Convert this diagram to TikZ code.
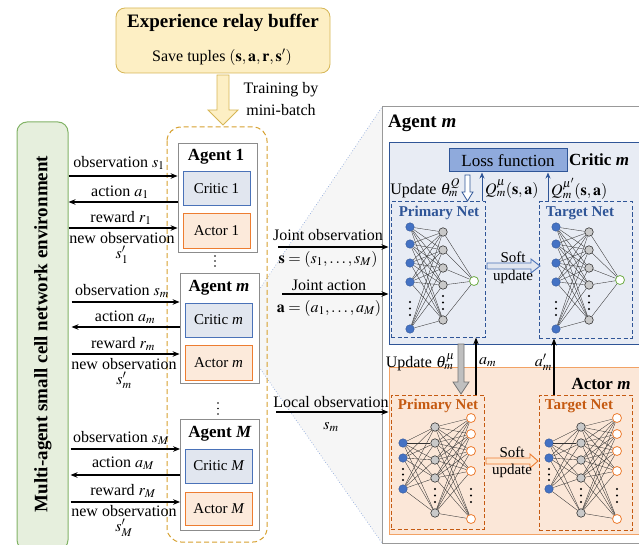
\documentclass[tikz,border=0pt]{standalone}
\usepackage{mathptmx}
\usepackage{fontspec}
\setmainfont{Liberation Serif}
\usetikzlibrary{arrows.meta}
\newcommand{\fs}[1]{\fontsize{#1}{#1}\selectfont}
\definecolor{bufF}{HTML}{FDEFC4}
\definecolor{bufD}{HTML}{D6B656}
\definecolor{envF}{HTML}{E6EFDD}
\definecolor{envD}{HTML}{82B366}
\definecolor{csF}{HTML}{E1E6EF}
\definecolor{csD}{HTML}{4A72B8}
\definecolor{asF}{HTML}{FCEADB}
\definecolor{asD}{HTML}{ED7D31}
\definecolor{goldD}{HTML}{D6A02E}
\definecolor{bcF}{HTML}{E8ECF4}
\definecolor{bcD}{HTML}{2F5597}
\definecolor{lossF}{HTML}{8FAADC}
\definecolor{baF}{HTML}{FBE7D8}
\definecolor{baD}{HTML}{F2A265}
\definecolor{blueT}{HTML}{2F5597}
\definecolor{orT}{HTML}{C55A11}
\definecolor{inF}{HTML}{4472C4}
\definecolor{hidF}{HTML}{C9C9C9}
\definecolor{outG}{HTML}{70AD47}
\definecolor{zoomF}{HTML}{F6F6F6}
\definecolor{zoomL}{HTML}{8FAADC}
\begin{document}
\begin{tikzpicture}[x=1pt,y=-1pt,
  txt/.style={inner sep=0pt, font=\fs{16}},
  two/.style={inner sep=0pt, align=center, font=\fontsize{16}{15.5}\selectfont},
  arr/.style={line width=1.2pt, -{Stealth[length=7pt,width=5.5pt]}},
  agbox/.style={draw=black!45, fill=white, line width=0.8pt, minimum width=79pt, inner sep=0pt},
  csbox/.style={draw=csD, fill=csF, line width=1pt, minimum width=67pt, minimum height=34pt, inner sep=0pt, font=\fs{15}},
  asbox/.style={draw=asD, fill=asF, line width=1pt, minimum width=67pt, minimum height=34pt, inner sep=0pt, font=\fs{15}},
  inn/.style={circle, fill=inF, draw=blueT, line width=0.4pt, minimum size=8.5pt, inner sep=0pt},
  hid/.style={circle, fill=hidF, draw=black!80, line width=0.6pt, minimum size=8.5pt, inner sep=0pt},
  outg/.style={circle, fill=white, draw=outG, line width=0.8pt, minimum size=9pt, inner sep=0pt},
  outo/.style={circle, fill=white, draw=asD, line width=0.8pt, minimum size=9pt, inner sep=0pt},
  nne/.style={line width=0.35pt, black!80},
  dashb/.style={draw=blueT, dashed, dash pattern=on 4pt off 2.5pt, line width=1pt},
  dasho/.style={draw=orT, dashed, dash pattern=on 4pt off 2.5pt, line width=1pt},
  netlab/.style={inner sep=0pt, font=\fs{15}\bfseries},
]
\useasboundingbox (0,0) rectangle (639,545);
\clip (0,0) rectangle (639,545);

% ---------- experience buffer ----------
\node[draw=bufD, fill=bufF, rounded corners=9pt, line width=0.8pt, minimum width=214pt, minimum height=65pt] (buf) at (223,40.5) {};
\node[txt, font=\fs{19}\bfseries] (buft) at (223,23) {Experience relay buffer};
\node[txt] (bufs) at (222,57) {Save tuples $(\mathbf{s},\mathbf{a},\mathbf{r},\mathbf{s}')$};
\draw[draw=bufD, fill=bufF, line width=0.8pt] (217,75) -- (229,75) -- (229,110) -- (238,110) -- (223,125) -- (208,110) -- (217,110) -- cycle;
\node[txt] (trn1) at (281,90) {Training by};
\node[txt] (trn2) at (281,110) {mini-batch};

% ---------- zoom region ----------
\fill[zoomF] (259,290) -- (382,107) -- (382,543) -- (259,367) -- cycle;
\draw[zoomL, dotted, line width=0.7pt] (259,290) -- (382,107);
\draw[zoomL, dotted, line width=0.7pt] (259,367) -- (382,543);

% ---------- environment ----------
\node[draw=envD, fill=envF, rounded corners=10pt, line width=1pt, minimum width=51pt, minimum height=428pt, inner sep=0pt] (env) at (42.5,336) {};
\node[txt, rotate=90, font=\fs{19}\bfseries] (envt) at (43,334) {Multi-agent small cell network environment};

% ---------- agent column ----------
\draw[goldD, dashed, dash pattern=on 5pt off 3pt, line width=1pt, rounded corners=14pt] (167,127) rectangle (267,542);

\node[agbox, minimum height=109pt] (ag1) at (217.5,197.5) {};
\node[txt, font=\fs{17}\bfseries] (ag1t) at (216,157) {Agent 1};
\node[csbox] (c1) at (216.5,189) {Critic 1};
\node[asbox] (a1) at (216.5,231) {Actor 1};
\foreach \y in {256,261,266} \fill (215,\y) circle (0.9);

\node[agbox, minimum height=110pt] (agm) at (219.5,328) {};
\node[txt, font=\fs{17}\bfseries] (agmt) at (219,288) {Agent \textit{m}};
\node[csbox] (cm) at (218.5,320) {Critic \textit{m}};
\node[asbox, minimum height=35pt] (am) at (218.5,362.5) {Actor \textit{m}};
\foreach \y in {403,408.5,414} \fill (218,\y) circle (0.9);

\node[agbox, minimum height=111pt] (agM) at (220,474.5) {};
\node[txt, font=\fs{17}\bfseries] (agMt) at (220,434) {Agent \textit{M}};
\node[csbox] (cM) at (219,466) {Critic \textit{M}};
\node[asbox, minimum height=33pt] (aM) at (219,508.5) {Actor \textit{M}};

% ---------- left arrows ----------
\draw[arr] (env.east |- 0,176) -- (ag1.west |- 0,176);
\draw[arr] (ag1.west |- 0,202) -- (env.east |- 0,202);
\draw[arr] (env.east |- 0,228) -- (ag1.west |- 0,228);
\node[txt] (l1) at (119,163) {observation $s_1$};
\node[txt] (l2) at (120,192) {action $a_1$};
\node[txt] (l3) at (121,218) {reward $r_1$};
\node[two, anchor=north] (l4) at (122,232) {new observation\\$s_1'$};

\draw[arr] ([xshift=3pt]env.east |- 0,302) -- (agm.west |- 0,302);
\draw[arr] (agm.west |- 0,327) -- ([xshift=3pt]env.east |- 0,327);
\draw[arr] ([xshift=3pt]env.east |- 0,354) -- (agm.west |- 0,354);
\node[txt] (l6) at (122,291) {observation $s_m$};
\node[txt] (l7) at (125,317) {action $a_m$};
\node[txt] (l8) at (123,344) {reward $r_m$};
\node[two, anchor=north] (l9) at (124,358) {new observation\\$s_m'$};

\draw[arr] ([xshift=2pt]env.east |- 0,449) -- (agM.west |- 0,449);
\draw[arr] (agM.west |- 0,475) -- ([xshift=2pt]env.east |- 0,475);
\draw[arr] ([xshift=2pt]env.east |- 0,502) -- (agM.west |- 0,502);
\node[txt] (l11) at (121,438) {observation $s_M$};
\node[txt] (l12) at (123,463) {action $a_M$};
\node[txt] (l13) at (123,491) {reward $r_M$};
\node[two, anchor=north] (l14) at (124,505) {new observation\\$s_M'$};

% ---------- right panel ----------
\draw[black!40, fill=white, line width=1pt] (382,107) rectangle (650,543);
\node[txt, font=\fs{19}\bfseries, anchor=west] (agmR) at (388,123) {Agent \textit{m}};

% critic
\node[draw=bcD, fill=bcF, line width=1pt, minimum width=261pt, minimum height=201pt, inner sep=0pt] (crit) at (519.5,243.5) {};
\node[draw=bcD, fill=lossF, line width=1pt, minimum width=118pt, minimum height=23pt, inner sep=0pt, font=\fs{17}] (loss) at (508,160.5) {Loss function};
\node[txt, font=\fs{17}\bfseries] (critt) at (599,160) {Critic \textit{m}};
\node[dashb, minimum width=94pt, minimum height=135pt, inner sep=0pt] (cpn) at (438,269.5) {};
\node[dashb, minimum width=93pt, minimum height=136pt, inner sep=0pt] (ctn) at (585.5,270) {};
\node[netlab, text=blueT] (cpnt) at (439,213) {Primary Net};
\node[netlab, text=blueT] (ctnt) at (580,213) {Target Net};

% critic update arrows
\draw[draw=blueT, fill=white, line width=0.8pt] (465,175) -- (470,175) -- (470,192) -- (473,192) -- (467.5,201) -- (462,192) -- (465,192) -- cycle;
\node[txt, anchor=east] (updQ) at (460,188) {Update $\theta_m^{Q}$};
\draw[blueT, line width=1pt, -{Stealth[length=6pt,width=5pt]}] (cpn.north -| 482,0) -- (loss.south -| 482,0);
\draw[blueT, line width=1pt, -{Stealth[length=6pt,width=5pt]}] (ctn.north -| 548,0) -- (loss.south -| 548,0);
\node[txt, anchor=west] (qlab) at (485,189) {$Q_m^{\mu}(\mathbf{s},\mathbf{a})$};
\node[txt, anchor=west] (qplab) at (551,189) {$Q_m^{\mu'}(\mathbf{s},\mathbf{a})$};

% critic soft update
\draw[draw=csD, fill=csF, line width=0.9pt] (487,263) -- (531,263) -- (531,259) -- (540,266) -- (531,273) -- (531,269) -- (487,269) -- cycle;
\node[txt, font=\fs{15}] (cs1) at (513,257) {Soft};
\node[txt, font=\fs{15}] (cs2) at (513,277) {update};

% critic nets
\foreach \X/\P in {410/cp,556/ct} {
  \foreach \y [count=\i] in {227,244,263,282,329} \node[inn] (\P i\i) at (\X,\y) {};
  \foreach \y in {302,308.5,315} \fill (\X,\y) circle (1.2);
}
\foreach \X/\P in {443/cp,589/ct} {
  \foreach \y [count=\i] in {232,250,268,285,320} \node[hid] (\P h\i) at (\X,\y) {};
  \foreach \y in {296,302.5,309} \fill (\X,\y) circle (1.2);
}
\node[outg] (cpo) at (474,281) {};
\node[outg] (cto) at (620,280) {};
\foreach \P in {cp,ct} {
  \foreach \i in {1,...,5} {
    \foreach \j in {1,...,5} \draw[nne] (\P i\i) -- (\P h\j);
    \draw[nne] (\P h\i) -- (\P o);
  }
}

% actor
\node[draw=baD, fill=baF, line width=1pt, minimum width=261pt, minimum height=167pt, inner sep=0pt] (act) at (519.5,450.5) {};
\node[txt, font=\fs{17}\bfseries] (actt) at (601,384) {Actor \textit{m}};
\node[dasho, minimum width=93pt, minimum height=134pt, inner sep=0pt] (apn) at (437.5,462) {};
\node[dasho, minimum width=93pt, minimum height=135pt, inner sep=0pt] (atn) at (585.5,462.5) {};
\node[netlab, text=orT] (apnt) at (438,406) {Primary Net};
\node[netlab, text=orT] (atnt) at (579,406) {Target Net};

% actor soft update
\draw[draw=asD, fill=asF!60!orange!40, line width=0.9pt] (486,458) -- (530,458) -- (530,454) -- (538,461) -- (530,468) -- (530,464) -- (486,464) -- cycle;
\node[txt, font=\fs{15}] (as1) at (512,452) {Soft};
\node[txt, font=\fs{15}] (as2) at (512,471) {update};

% actor nets
\foreach \X/\P in {403/ap,549/at} {
  \foreach \y [count=\i] in {443,458,489} \node[inn] (\P i\i) at (\X,\y) {};
  \foreach \y in {469,474.5,480} \fill (\X,\y) circle (1.2);
}
\foreach \X/\P in {435/ap,581/at} {
  \foreach \y [count=\i] in {427,443,460,478,513} \node[hid] (\P h\i) at (\X,\y) {};
  \foreach \y in {489,495.5,502} \fill (\X,\y) circle (1.2);
}
\foreach \X/\P in {471/ap,617/at} {
  \foreach \y [count=\i] in {418,434,451,471,519} \node[outo] (\P o\i) at (\X,\y) {};
  \foreach \y in {489,495.5,502} \fill (\X,\y) circle (1.2);
}
\foreach \P in {ap,at} {
  \foreach \j in {1,...,5} {
    \foreach \i in {1,2,3} \draw[nne] (\P i\i) -- (\P h\j);
    \foreach \k in {1,...,5} \draw[nne] (\P h\j) -- (\P o\k);
  }
}

% between critic and actor
\draw[draw=black!55, fill=black!25, line width=0.8pt] (458,344) -- (464,344) -- (464,382) -- (469,382) -- (461,394) -- (453,382) -- (458,382) -- cycle;
\node[txt, anchor=east] (updmu) at (455,362) {Update $\theta_m^{\mu}$};
\draw[arr, line width=1.1pt] (apn.north -| 476,0) -- (cpn.south -| 476,0);
\draw[arr, line width=1.1pt] (atn.north -| 554,0) -- (ctn.south -| 554,0);
\node[txt, anchor=west] (amlab) at (479,362) {$a_m$};
\node[txt, anchor=east] (apmlab) at (552,362) {$a_m'$};

% ---------- middle arrows ----------
\draw[arr] (278,247) -- (crit.west |- 0,247);
\node[txt] (jo1) at (328,235) {Joint observation};
\node[txt] (jo2) at (328,259) {$\mathbf{s}=(s_1,\ldots,s_M)$};
\draw[arr] (282,294) -- (crit.west |- 0,294);
\node[txt] (ja1) at (329,285) {Joint action};
\node[txt] (ja2) at (329,308) {$\mathbf{a}=(a_1,\ldots,a_M)$};
\draw[arr] (276,412) -- (act.west |- 0,412);
\node[txt] (lo1) at (331,402) {Local observation};
\node[txt] (lo2) at (331,427) {$s_m$};
\end{tikzpicture}
\end{document}
